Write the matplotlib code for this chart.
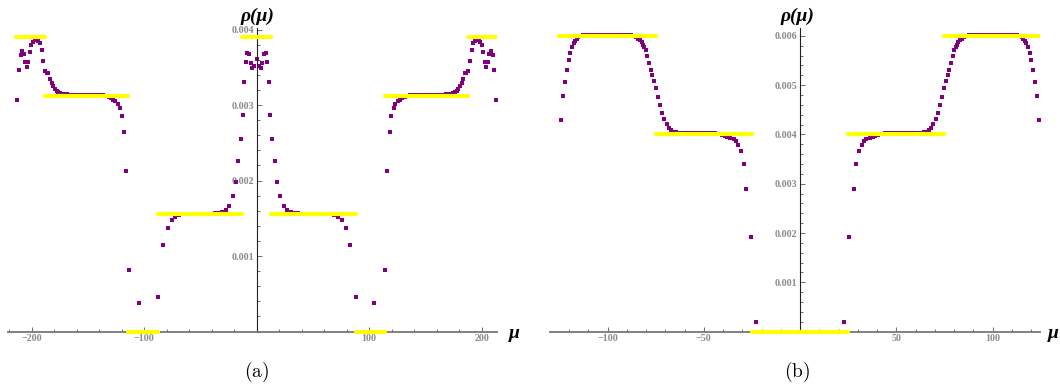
import numpy as np
import matplotlib.pyplot as plt
from matplotlib.ticker import MultipleLocator, FixedLocator, FuncFormatter

plt.rcParams['mathtext.fontset'] = 'cm'
plt.rcParams['font.family'] = ['Liberation Serif', 'DejaVu Serif']

PURPLE = '#800080'
YELLOW = '#ffff00'
TICK_GREY = '#8a8a8a'

# ---------------- panel (a) ----------------
# eigenvalue positions and density (rho in units of 1e-3)
mu_a_left = [
    -213.0, -211.3, -209.8, -208.3, -206.8, -205.6, -204.2, -203.3, -201.5, -200.3,
    -198.8, -197.3, -195.6, -194.0, -192.6, -191.1, -189.6, -188.2, -186.4, -185.2,
    -183.7, -182.2, -180.7, -179.3, -177.8, -176.3, -174.8, -173.2, -171.6, -170.0,
    -168.4, -166.8, -165.2, -163.6, -162.0, -160.4, -158.8, -157.2, -155.6, -154.0,
    -152.4, -150.8, -149.2, -147.6, -146.0, -144.4, -142.8, -141.2, -139.6, -138.0,
    -136.4, -134.8, -133.2, -131.6, -129.6, -127.7, -125.6, -123.3, -121.8, -119.7,
    -118.2, -116.1, -113.8, -104.5, -88.0, -83.0, -79.1, -75.6, -72.3, -69.1,
    -65.9, -62.7, -59.5, -56.3, -53.1, -49.9, -46.7, -43.5, -40.3, -37.2,
    -34.0, -30.4, -27.2, -24.2, -21.2, -18.5, -16.2, -14.1, -12.3, -10.8,
    -9.35, -8.45, -6.8, -5.15, -3.7, -2.0, 0.0]
rho_a_left = [
    3.07, 3.46, 3.66, 3.71, 3.68, 3.57, 3.50, 3.57, 3.70, 3.79,
    3.84, 3.86, 3.86, 3.85, 3.82, 3.73, 3.58, 3.45, 3.43, 3.42,
    3.34, 3.29, 3.25, 3.21, 3.19, 3.17, 3.16, 3.15, 3.15, 3.14,
    3.14, 3.13, 3.13, 3.13, 3.13, 3.13, 3.13, 3.13, 3.13, 3.13,
    3.13, 3.13, 3.13, 3.13, 3.13, 3.13, 3.13, 3.13, 3.13, 3.13,
    3.13, 3.12, 3.12, 3.11, 3.09, 3.07, 3.05, 3.01, 2.96, 2.85,
    2.64, 2.13, 0.82, 0.38, 0.46, 1.14, 1.37, 1.48, 1.52, 1.54,
    1.55, 1.55, 1.55, 1.56, 1.56, 1.56, 1.56, 1.56, 1.56, 1.57,
    1.57, 1.58, 1.61, 1.66, 1.80, 1.98, 2.26, 2.55, 2.87, 3.30,
    3.57, 3.69, 3.67, 3.55, 3.49, 3.52, 3.61]
mu_a_right = [
    2.0, 3.7, 5.15, 6.8, 8.45, 9.35, 10.8, 12.3, 14.1, 16.2,
    18.5, 21.2, 24.2, 27.2, 30.4, 34.0, 37.2, 40.3, 43.5, 46.7,
    49.9, 53.1, 56.3, 59.5, 62.7, 65.9, 69.1, 72.3, 75.6, 79.1,
    83.0, 88.0, 104.5, 113.8, 116.1, 118.2, 119.7, 121.8, 123.3, 125.6,
    127.7, 129.6, 131.6, 133.2, 134.8, 136.4, 138.0, 139.6, 141.2, 142.8,
    144.4, 146.0, 147.6, 149.2, 150.8, 152.4, 154.0, 155.6, 157.2, 158.8,
    160.4, 162.0, 163.6, 165.2, 166.8, 168.4, 170.0, 171.6, 173.2, 174.8,
    176.3, 177.8, 179.3, 180.7, 182.2, 183.7, 185.2, 186.4, 188.2, 189.6,
    191.1, 192.6, 194.0, 195.6, 197.3, 198.8, 200.3, 201.5, 203.3, 204.2,
    205.6, 206.8, 208.3, 209.8, 211.3, 213.0]
rho_a_right = [
    3.52, 3.49, 3.55, 3.67, 3.69, 3.57, 3.30, 2.87, 2.55, 2.26,
    1.98, 1.80, 1.66, 1.61, 1.58, 1.57, 1.57, 1.56, 1.56, 1.56,
    1.56, 1.56, 1.56, 1.55, 1.55, 1.55, 1.54, 1.52, 1.48, 1.37,
    1.14, 0.46, 0.38, 0.82, 2.13, 2.64, 2.85, 2.96, 3.01, 3.05,
    3.07, 3.09, 3.11, 3.12, 3.12, 3.13, 3.13, 3.13, 3.13, 3.13,
    3.13, 3.13, 3.13, 3.13, 3.13, 3.13, 3.13, 3.13, 3.13, 3.13,
    3.13, 3.13, 3.13, 3.13, 3.13, 3.14, 3.14, 3.15, 3.15, 3.16,
    3.17, 3.19, 3.21, 3.25, 3.29, 3.34, 3.42, 3.43, 3.45, 3.58,
    3.73, 3.82, 3.85, 3.86, 3.86, 3.84, 3.79, 3.70, 3.57, 3.50,
    3.57, 3.68, 3.71, 3.66, 3.46, 3.07]

# plateau segments (a)
seg_a_start = [-214, -188, -114, -88, -13, 13, 88, 114, 188]
seg_a_end = [-188, -114, -88, -13, 13, 88, 114, 188, 214]
seg_a_level = [3.9, 3.125, 0.0, 1.5625, 3.9, 1.5625, 0.0, 3.125, 3.9]

# ---------------- panel (b) ----------------
mu_b_left = [
    -124.2, -123.1, -122.1, -121.1, -120.2, -119.4, -118.5, -117.6, -116.8, -115.9,
    -115.1, -114.2, -113.4, -112.6, -111.7, -110.9, -110.1, -109.2, -108.4, -107.6,
    -106.7, -105.9, -105.1, -104.2, -103.4, -102.6, -101.7, -100.9, -100.1, -99.2,
    -98.4, -97.6, -96.7, -95.9, -95.1, -94.2, -93.4, -92.6, -91.7, -90.9,
    -90.1, -89.2, -88.4, -87.6, -86.7, -85.9, -85.0, -84.2, -83.3, -82.3,
    -81.4, -80.8, -80.2, -79.3, -78.5, -77.6, -76.7, -75.7, -74.7, -73.7,
    -72.6, -71.6, -70.4, -69.2, -68.2, -66.9, -65.5, -64.3, -63.0, -61.8,
    -60.5, -59.3, -58.0, -56.8, -55.5, -54.3, -53.0, -51.8, -50.5, -49.3,
    -48.0, -46.8, -45.5, -44.2, -42.9, -41.6, -40.3, -39.0, -37.7, -36.4,
    -34.5, -33.3, -32.1, -30.7, -29.3, -27.8, -25.7, -22.8]
rho_b_left = [
    4.29, 4.78, 5.06, 5.31, 5.51, 5.65, 5.77, 5.85, 5.90, 5.94,
    5.97, 5.99, 6.00, 6.01, 6.01, 6.01, 6.01, 6.01, 6.01, 6.01,
    6.01, 6.01, 6.01, 6.01, 6.01, 6.01, 6.01, 6.01, 6.01, 6.01,
    6.01, 6.01, 6.01, 6.01, 6.01, 6.01, 6.01, 6.01, 6.01, 6.01,
    6.01, 6.01, 6.01, 6.01, 6.00, 5.99, 5.97, 5.94, 5.91, 5.87,
    5.82, 5.77, 5.71, 5.59, 5.45, 5.31, 5.20, 5.08, 4.95, 4.76,
    4.60, 4.43, 4.31, 4.21, 4.12, 4.08, 4.05, 4.04, 4.02, 4.02,
    4.02, 4.02, 4.02, 4.02, 4.02, 4.02, 4.02, 4.02, 4.02, 4.02,
    4.02, 4.02, 4.02, 4.02, 4.01, 4.00, 3.99, 3.97, 3.95, 3.92,
    3.90, 3.86, 3.79, 3.66, 3.40, 2.89, 1.92, 0.19]
mu_b_right = [
    22.8, 25.7, 27.8, 29.3, 30.7, 32.1, 33.3, 34.5, 36.4, 37.7,
    39.0, 40.3, 41.6, 42.9, 44.2, 45.5, 46.8, 48.0, 49.3, 50.5,
    51.8, 53.0, 54.3, 55.5, 56.8, 58.0, 59.3, 60.5, 61.8, 63.0,
    64.3, 65.5, 66.9, 68.2, 69.2, 70.4, 71.6, 72.6, 73.7, 74.7,
    75.7, 76.7, 77.6, 78.5, 79.3, 80.2, 80.8, 81.4, 82.3, 83.3,
    84.2, 85.0, 85.9, 86.7, 87.6, 88.4, 89.2, 90.1, 90.9, 91.7,
    92.6, 93.4, 94.2, 95.1, 95.9, 96.7, 97.6, 98.4, 99.2, 100.1,
    100.9, 101.7, 102.6, 103.4, 104.2, 105.1, 105.9, 106.7, 107.6, 108.4,
    109.2, 110.1, 110.9, 111.7, 112.6, 113.4, 114.2, 115.1, 115.9, 116.8,
    117.6, 118.5, 119.4, 120.2, 121.1, 122.1, 123.1, 124.2]
rho_b_right = [
    0.19, 1.92, 2.89, 3.40, 3.66, 3.79, 3.86, 3.90, 3.92, 3.95,
    3.97, 3.99, 4.00, 4.01, 4.02, 4.02, 4.02, 4.02, 4.02, 4.02,
    4.02, 4.02, 4.02, 4.02, 4.02, 4.02, 4.02, 4.02, 4.02, 4.02,
    4.04, 4.05, 4.08, 4.12, 4.21, 4.31, 4.43, 4.60, 4.76, 4.95,
    5.08, 5.20, 5.31, 5.45, 5.59, 5.71, 5.77, 5.82, 5.87, 5.91,
    5.94, 5.97, 5.99, 6.00, 6.01, 6.01, 6.01, 6.01, 6.01, 6.01,
    6.01, 6.01, 6.01, 6.01, 6.01, 6.01, 6.01, 6.01, 6.01, 6.01,
    6.01, 6.01, 6.01, 6.01, 6.01, 6.01, 6.01, 6.01, 6.01, 6.01,
    6.01, 6.01, 6.01, 6.01, 6.01, 6.00, 5.99, 5.97, 5.94, 5.90,
    5.85, 5.77, 5.65, 5.51, 5.31, 5.06, 4.78, 4.29]

seg_b_start = [-125, -75, -25, 25, 75]
seg_b_end = [-75, -25, 25, 75, 125]
seg_b_level = [6.0, 4.0, 0.0, 4.0, 6.0]

W, H = 1060, 390


def px_axes(fig, left, right, top, bottom):
    return fig.add_axes([left / W, 1 - bottom / H, (right - left) / W, (bottom - top) / H])


def style_axes(ax, xlim, ylim, xmajor, xminor, ymajor, yminor):
    ax.set_xlim(*xlim)
    ax.set_ylim(*ylim)
    ax.patch.set_visible(False)
    for side in ('top', 'right'):
        ax.spines[side].set_visible(False)
    ax.spines['left'].set_position(('data', 0))
    ax.spines['bottom'].set_position(('data', 0))
    ax.spines['left'].set_bounds(0, ylim[1])
    ax.spines['left'].set_color('#222222')
    ax.spines['left'].set_linewidth(0.8)
    ax.spines['bottom'].set_color('#777777')
    ax.spines['bottom'].set_linewidth(1.3)
    ax.xaxis.set_major_locator(FixedLocator(xmajor))
    ax.xaxis.set_minor_locator(MultipleLocator(xminor))
    ax.yaxis.set_major_locator(FixedLocator(ymajor))
    ax.yaxis.set_minor_locator(MultipleLocator(yminor))
    ax.yaxis.set_major_formatter(FuncFormatter(lambda v, p: f'{v:.3f}'))
    ax.xaxis.set_major_formatter(FuncFormatter(lambda v, p: f'{v:g}'.replace('-', '\u2212')))
    ax.tick_params(which='both', direction='in', colors='#555555',
                   labelcolor=TICK_GREY, labelsize=7.2, width=0.6)
    ax.tick_params(which='major', length=3.5, pad=2)
    ax.tick_params(which='minor', length=2)
    plt.setp(ax.get_xticklabels() + ax.get_yticklabels(), fontweight='bold')


def draw_panel(ax, mu, rho, starts, ends, levels):
    ax.plot(mu, np.array(rho) * 1e-3, 's', color=PURPLE, ms=2.4, mew=0, zorder=2)
    ax.hlines(np.array(levels) * 1e-3, starts, ends, colors=YELLOW,
              linewidth=3.0, capstyle='round', zorder=3)


fig = plt.figure(figsize=(W / 100, H / 100), dpi=100)

# panel (a): axis origin at px (256.6, 331.5), 1.125 px per unit, 75.5 px per 0.001
ax_a = px_axes(fig, 8, 497, 28, 340)
draw_panel(ax_a, mu_a_left + mu_a_right, rho_a_left + rho_a_right,
           seg_a_start, seg_a_end, seg_a_level)
style_axes(ax_a, ((8 - 256.6) / 1.125, (497 - 256.6) / 1.125),
           ((331.5 - 340) / 75.5e3, (331.5 - 28) / 75.5e3),
           [-200, -100, 100, 200], 20,
           [0.001, 0.002, 0.003, 0.004], 0.0002)

# panel (b): axis origin at px (800, 331.6), 1.925 px per unit, 49.3 px per 0.001
ax_b = px_axes(fig, 550, 1040, 28, 340)
draw_panel(ax_b, mu_b_left + mu_b_right, rho_b_left + rho_b_right,
           seg_b_start, seg_b_end, seg_b_level)
style_axes(ax_b, ((550 - 800) / 1.925, (1040 - 800) / 1.925),
           ((331.6 - 340) / 49.3e3, (331.6 - 28) / 49.3e3),
           [-100, -50, 50, 100], 10,
           [0.001, 0.002, 0.003, 0.004, 0.005, 0.006], 0.0002)

lab_kw = dict(fontsize=14, fontweight='bold', fontstyle='italic', color='black')
fig.text(257 / W, 1 - 16 / H, 'ρ(μ)', ha='center', va='center', **lab_kw)
fig.text(797 / W, 1 - 16 / H, 'ρ(μ)', ha='center', va='center', **lab_kw)
fig.text(514 / W, 1 - 334 / H, 'μ', ha='center', va='center', **lab_kw)
fig.text(1053 / W, 1 - 334 / H, 'μ', ha='center', va='center', **lab_kw)

fig.text(257 / W, 1 - 372 / H, r'$\mathrm{(a)}$', ha='center', va='center', fontsize=14)
fig.text(797 / W, 1 - 372 / H, r'$\mathrm{(b)}$', ha='center', va='center', fontsize=14)

fig.savefig('out.png', dpi=100)
